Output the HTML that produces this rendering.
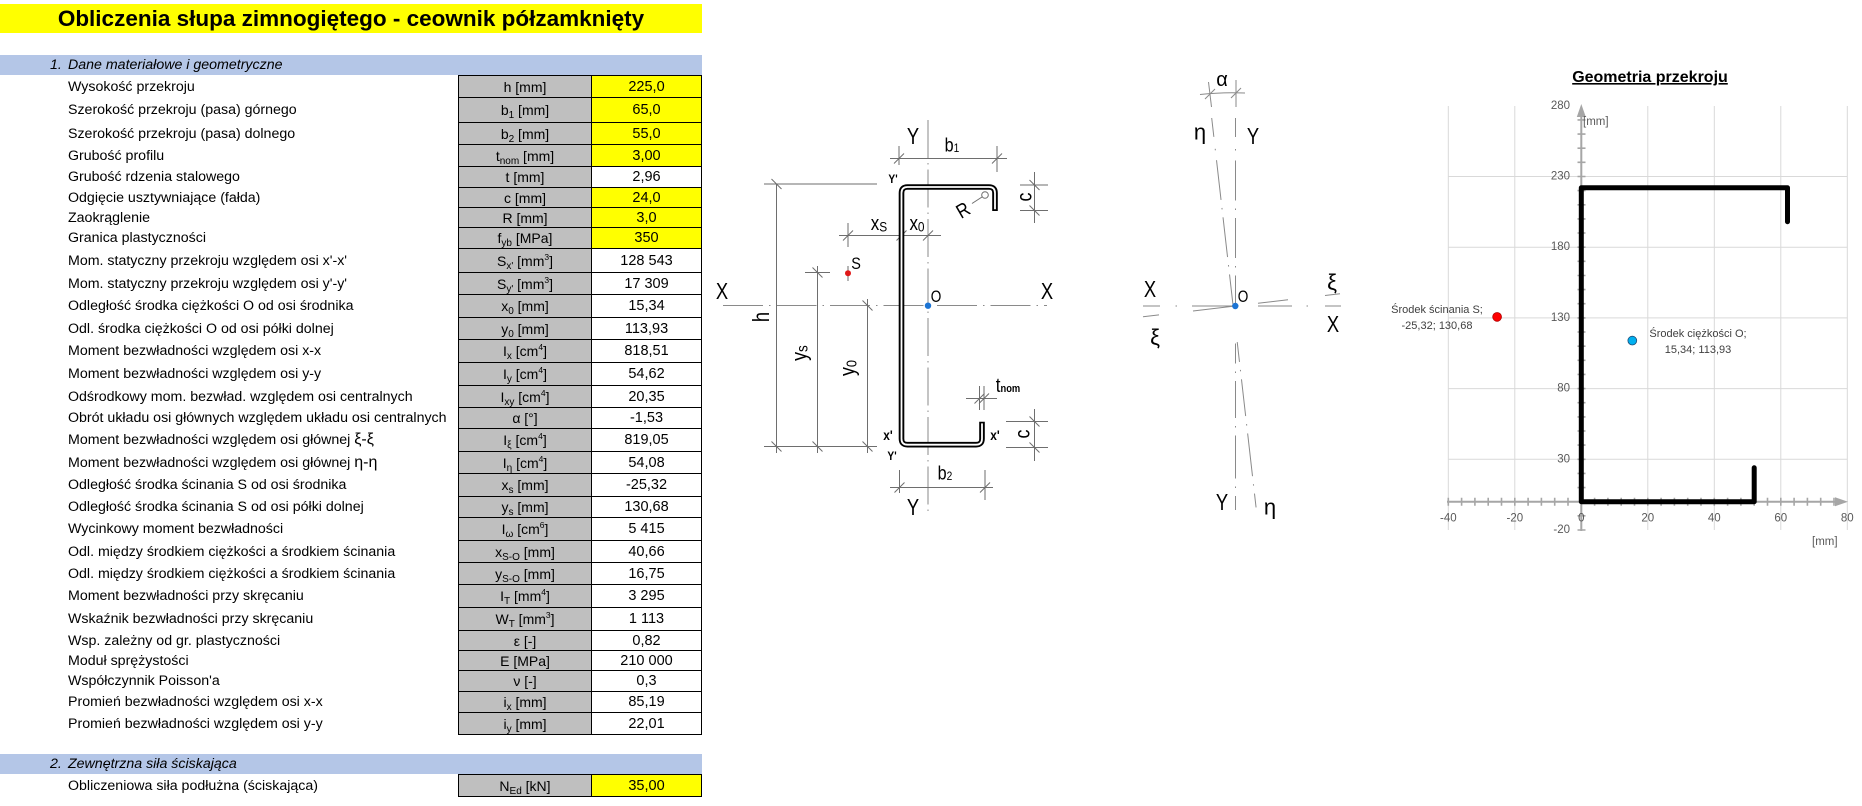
<!DOCTYPE html>
<html><head><meta charset="utf-8">
<style>
html,body{margin:0;padding:0;background:#fff;}
body{width:1862px;height:806px;position:relative;overflow:hidden;font-family:"Liberation Sans",sans-serif;color:#000;}
.title{position:absolute;left:0;top:4px;width:702px;height:29px;background:#ff0;font-weight:bold;font-size:22.5px;line-height:29px;text-align:center;}
.hd{position:absolute;left:0;width:702px;height:20px;background:#b4c6e7;font-style:italic;font-size:14.2px;}
.hd .n{position:absolute;left:50px;top:0;line-height:20px;}
.hd .t{position:absolute;left:68px;top:0;line-height:20px;}
.r{position:absolute;left:0;width:702px;font-size:14.2px;}
.l{position:absolute;left:68px;top:0;height:100%;display:flex;align-items:center;white-space:nowrap;}
.u,.v{position:absolute;top:0;height:100%;border:1px solid #000;box-sizing:border-box;display:flex;align-items:center;justify-content:center;white-space:nowrap;}
.u{left:458px;width:134px;background:#bfbfbf;font-size:14px;}
.v{left:591px;width:111px;background:#fff;font-size:14.5px;}
.y{background:#ff0;}
sub{font-size:10px;vertical-align:-3px;line-height:0;}
sup{font-size:8.5px;vertical-align:6px;line-height:0;}
svg{position:absolute;left:0;top:0;}
</style></head><body>
<div class="title">Obliczenia słupa zimnogiętego - ceownik półzamknięty</div>
<div class="hd" style="top:55px"><span class="n">1.</span><span class="t">Dane materiałowe i geometryczne</span></div>

<div class="r" style="top:75px;height:23px"><span class="l">Wysokość przekroju</span><div class="u"><span>h [mm]</span></div><div class="v y">225,0</div></div>
<div class="r" style="top:97px;height:26px"><span class="l">Szerokość przekroju (pasa) górnego</span><div class="u"><span>b<sub>1</sub> [mm]</span></div><div class="v y">65,0</div></div>
<div class="r" style="top:122px;height:23px"><span class="l">Szerokość przekroju (pasa) dolnego</span><div class="u"><span>b<sub>2</sub> [mm]</span></div><div class="v y">55,0</div></div>
<div class="r" style="top:144px;height:23px"><span class="l">Grubość profilu</span><div class="u"><span>t<sub>nom</sub> [mm]</span></div><div class="v y">3,00</div></div>
<div class="r" style="top:166px;height:22px"><span class="l">Grubość rdzenia stalowego</span><div class="u"><span>t [mm]</span></div><div class="v">2,96</div></div>
<div class="r" style="top:187px;height:21px"><span class="l">Odgięcie usztywniające (fałda)</span><div class="u"><span>c [mm]</span></div><div class="v y">24,0</div></div>
<div class="r" style="top:207px;height:21px"><span class="l">Zaokrąglenie</span><div class="u"><span>R [mm]</span></div><div class="v y">3,0</div></div>
<div class="r" style="top:227px;height:22px"><span class="l">Granica plastyczności</span><div class="u"><span>f<sub>yb</sub> [MPa]</span></div><div class="v y">350</div></div>
<div class="r" style="top:248px;height:25px"><span class="l">Mom. statyczny przekroju względem osi x'-x'</span><div class="u"><span>S<sub>x'</sub> [mm<sup>3</sup>]</span></div><div class="v">128 543</div></div>
<div class="r" style="top:272px;height:23px"><span class="l">Mom. statyczny przekroju względem osi y'-y'</span><div class="u"><span>S<sub>y'</sub> [mm<sup>3</sup>]</span></div><div class="v">17 309</div></div>
<div class="r" style="top:294px;height:24px"><span class="l">Odległość środka ciężkości O od osi środnika</span><div class="u"><span>x<sub>0</sub> [mm]</span></div><div class="v">15,34</div></div>
<div class="r" style="top:317px;height:23px"><span class="l">Odl. środka ciężkości O od osi półki dolnej</span><div class="u"><span>y<sub>0</sub> [mm]</span></div><div class="v">113,93</div></div>
<div class="r" style="top:339px;height:24px"><span class="l">Moment bezwładności względem osi x-x</span><div class="u"><span>I<sub>x</sub> [cm<sup>4</sup>]</span></div><div class="v">818,51</div></div>
<div class="r" style="top:362px;height:24px"><span class="l">Moment bezwładności względem osi y-y</span><div class="u"><span>I<sub>y</sub> [cm<sup>4</sup>]</span></div><div class="v">54,62</div></div>
<div class="r" style="top:385px;height:23px"><span class="l">Odśrodkowy mom. bezwład. względem osi centralnych</span><div class="u"><span>I<sub>xy</sub> [cm<sup>4</sup>]</span></div><div class="v">20,35</div></div>
<div class="r" style="top:407px;height:22px"><span class="l">Obrót układu osi głównych względem układu osi centralnych</span><div class="u"><span>α [°]</span></div><div class="v">-1,53</div></div>
<div class="r" style="top:428px;height:24px"><span class="l"><span>Moment bezwładności względem osi głównej <span style="font-size:16px">ξ-ξ</span></span></span><div class="u"><span>I<sub>ξ</sub> [cm<sup>4</sup>]</span></div><div class="v">819,05</div></div>
<div class="r" style="top:451px;height:23px"><span class="l"><span>Moment bezwładności względem osi głównej <span style="font-size:16px">η-η</span></span></span><div class="u"><span>I<sub>η</sub> [cm<sup>4</sup>]</span></div><div class="v">54,08</div></div>
<div class="r" style="top:473px;height:24px"><span class="l">Odległość środka ścinania S od osi środnika</span><div class="u"><span>x<sub>s</sub> [mm]</span></div><div class="v">-25,32</div></div>
<div class="r" style="top:496px;height:22px"><span class="l">Odległość środka ścinania S od osi półki dolnej</span><div class="u"><span>y<sub>s</sub> [mm]</span></div><div class="v">130,68</div></div>
<div class="r" style="top:517px;height:24px"><span class="l">Wycinkowy moment bezwładności</span><div class="u"><span>I<sub>ω</sub> [cm<sup>6</sup>]</span></div><div class="v">5 415</div></div>
<div class="r" style="top:540px;height:23px"><span class="l">Odl. między środkiem ciężkości a środkiem ścinania</span><div class="u"><span>x<sub>S-O</sub> [mm]</span></div><div class="v">40,66</div></div>
<div class="r" style="top:562px;height:23px"><span class="l">Odl. między środkiem ciężkości a środkiem ścinania</span><div class="u"><span>y<sub>S-O</sub> [mm]</span></div><div class="v">16,75</div></div>
<div class="r" style="top:584px;height:24px"><span class="l">Moment bezwładności przy skręcaniu</span><div class="u"><span>I<sub>T</sub> [mm<sup>4</sup>]</span></div><div class="v">3 295</div></div>
<div class="r" style="top:607px;height:24px"><span class="l">Wskaźnik bezwładności przy skręcaniu</span><div class="u"><span>W<sub>T</sub> [mm<sup>3</sup>]</span></div><div class="v">1 113</div></div>
<div class="r" style="top:630px;height:21px"><span class="l">Wsp. zależny od gr. plastyczności</span><div class="u"><span>ε [-]</span></div><div class="v">0,82</div></div>
<div class="r" style="top:650px;height:21px"><span class="l">Moduł sprężystości</span><div class="u"><span>E [MPa]</span></div><div class="v">210 000</div></div>
<div class="r" style="top:670px;height:22px"><span class="l">Współczynnik Poisson'a</span><div class="u"><span>ν [-]</span></div><div class="v">0,3</div></div>
<div class="r" style="top:691px;height:22px"><span class="l">Promień bezwładności względem osi x-x</span><div class="u"><span>i<sub>x</sub> [mm]</span></div><div class="v">85,19</div></div>
<div class="r" style="top:712px;height:23px"><span class="l">Promień bezwładności względem osi y-y</span><div class="u"><span>i<sub>y</sub> [mm]</span></div><div class="v">22,01</div></div>

<div class="hd" style="top:754px"><span class="n">2.</span><span class="t">Zewnętrzna siła ściskająca</span></div>
<div class="r" style="top:774px;height:23px"><span class="l">Obliczeniowa siła podłużna (ściskająca)</span><div class="u"><span>N<sub>Ed</sub> [kN]</span></div><div class="v y">35,00</div></div>

<svg width="1862" height="806" viewBox="0 0 1862 806" xmlns="http://www.w3.org/2000/svg" font-family="Liberation Sans, sans-serif">
<!-- ============ Diagram 1 ============ -->
<g stroke="#8a8a8a" stroke-width="1" fill="none">
  <line x1="928" y1="120" x2="928" y2="513" stroke-dasharray="38 5 1.5 5"/>
  <line x1="723" y1="305.5" x2="1047" y2="305.5" stroke-dasharray="40 6 1.5 6"/>
</g>
<g stroke="#6e6e6e" stroke-width="1" fill="none">
  <line x1="890" y1="158.5" x2="1007" y2="158.5"/>
  <line x1="899" y1="146" x2="899" y2="165"/>
  <line x1="997" y1="146" x2="997" y2="172"/>
  <path d="M894 163.5l10 -10M992 163.5l10 -10"/>
  <line x1="776.5" y1="184" x2="776.5" y2="453"/>
  <line x1="764" y1="184" x2="877" y2="184"/>
  <line x1="764" y1="446.5" x2="877" y2="446.5"/>
  <path d="M771.5 179l10 10M771.5 441.5l10 10"/>
  <line x1="817.5" y1="266" x2="817.5" y2="453"/>
  <line x1="805" y1="272.5" x2="830" y2="272.5"/>
  <path d="M812.5 267.5l10 10M812.5 441.5l10 10"/>
  <line x1="867.5" y1="299" x2="867.5" y2="453"/>
  <path d="M862.5 300.5l10 10M862.5 441.5l10 10"/>
  <line x1="839" y1="235.5" x2="941" y2="235.5"/>
  <line x1="848" y1="223" x2="848" y2="247"/>
  <line x1="848" y1="266" x2="848" y2="281"/>
  <path d="M843 240.5l10 -10M896.5 240.5l10 -10M923 240.5l10 -10"/>
  <line x1="1034.5" y1="172" x2="1034.5" y2="223"/>
  <line x1="1020" y1="185" x2="1048" y2="185"/>
  <line x1="1020" y1="210.5" x2="1048" y2="210.5"/>
  <path d="M1029.5 180l10 10M1029.5 205.5l10 10"/>
  <line x1="966" y1="398.5" x2="997" y2="398.5"/>
  <line x1="979.5" y1="386" x2="979.5" y2="410"/>
  <line x1="984" y1="386" x2="984" y2="410"/>
  <path d="M974.5 403.5l10 -10M979 403.5l10 -10"/>
  <line x1="1034.5" y1="409" x2="1034.5" y2="461"/>
  <line x1="1006" y1="421.5" x2="1048" y2="421.5"/>
  <line x1="1006" y1="447.5" x2="1048" y2="447.5"/>
  <path d="M1029.5 416.5l10 10M1029.5 442.5l10 10"/>
  <line x1="890" y1="487.5" x2="993" y2="487.5"/>
  <line x1="899.5" y1="470" x2="899.5" y2="493"/>
  <line x1="985" y1="470" x2="985" y2="500"/>
  <path d="M894.5 492.5l10 -10M980 492.5l10 -10"/>
  <circle cx="985" cy="195" r="3.3"/>
  <line x1="972" y1="203.5" x2="982" y2="197"/>
</g>
<path d="M995 211 L995 193 Q995 187 989 187 L907.5 187 Q901.5 187 901.5 193 L901.5 438.7 Q901.5 444.7 907.5 444.7 L976 444.7 Q982 444.7 982 438.7 L982 421.7" fill="none" stroke="#000" stroke-width="5.6"/>
<path d="M995 209.3 L995 193 Q995 187 989 187 L907.5 187 Q901.5 187 901.5 193 L901.5 438.7 Q901.5 444.7 907.5 444.7 L976 444.7 Q982 444.7 982 438.7 L982 423.4" fill="none" stroke="#fff" stroke-width="1.8"/>
<circle cx="848" cy="273.3" r="3" fill="#e01818"/>
<circle cx="928" cy="305.7" r="3.2" fill="#1c74d4"/>
<g fill="#000" text-anchor="middle" dominant-baseline="central">
  <text transform="translate(722,292) scale(0.8,1)" font-size="23">X</text>
  <text transform="translate(1047,292) scale(0.8,1)" font-size="23">X</text>
  <text transform="translate(913,137) scale(0.8,1)" font-size="23">Y</text>
  <text transform="translate(913,508) scale(0.8,1)" font-size="23">Y</text>
  <text transform="translate(952,145) scale(0.85,1)" font-size="19">b<tspan font-size="12" dy="4">1</tspan></text>
  <text transform="translate(945,473) scale(0.85,1)" font-size="19">b<tspan font-size="12" dy="4">2</tspan></text>
  <text transform="translate(893,180) scale(0.85,1)" font-size="12" font-weight="bold">Y'</text>
  <text transform="translate(892,457) scale(0.85,1)" font-size="12" font-weight="bold">Y'</text>
  <text transform="translate(888,435) scale(0.85,1)" font-size="14" font-weight="bold">x'</text>
  <text transform="translate(995,435) scale(0.85,1)" font-size="14" font-weight="bold">x'</text>
  <text transform="translate(762,317) rotate(-90) scale(0.8,1)" font-size="23">h</text>
  <text transform="translate(800,353) rotate(-90) scale(0.85,1)" font-size="21">y<tspan font-size="16" dy="3">s</tspan></text>
  <text transform="translate(848,368) rotate(-90) scale(0.85,1)" font-size="21">y<tspan font-size="15" dy="3">0</tspan></text>
  <text transform="translate(879,223) scale(0.85,1)" font-size="20">x<tspan font-size="14" dy="3">S</tspan></text>
  <text transform="translate(917,223) scale(0.85,1)" font-size="20">x<tspan font-size="14" dy="3">0</tspan></text>
  <text transform="translate(856,264) scale(0.85,1)" font-size="17">S</text>
  <text transform="translate(936,297) scale(0.8,1)" font-size="17">O</text>
  <text transform="translate(1025,197) rotate(-90) scale(0.85,1)" font-size="21">c</text>
  <text transform="translate(1023,434) rotate(-90) scale(0.85,1)" font-size="21">c</text>
  <text transform="translate(963,210) rotate(-30) scale(0.85,1)" font-size="20">R</text>
  <text transform="translate(1008,385) scale(0.85,1)" font-size="20">t<tspan font-size="11" dy="4" font-weight="bold">nom</tspan></text>
</g>

<!-- ============ Diagram 2 ============ -->
<g stroke="#8a8a8a" stroke-width="1" fill="none">
  <line x1="1235.5" y1="118" x2="1235.5" y2="513" stroke-dasharray="19 12 1.5 10 40 8 1.5 8 40 8 1.5 8 30 38 20 8 1.5 8 37 8 1.5 8 43 8 1.5 8 14"/>
  <line x1="1211.7" y1="118" x2="1256.7" y2="513" stroke-dasharray="19 12 1.5 10 40 8 1.5 8 40 8 1.5 8 30 38 20 8 1.5 8 37 8 1.5 8 43 8 1.5 8 14"/>
  <path d="M1143 306H1160M1192 306H1233M1258 306H1292M1325 306H1341"/>
  <path d="M1175.5 306h1.5M1306.5 306h1.5"/>
  <path d="M1143 316.8L1159 314.9M1193 311L1233 306.3M1258 303.3L1288 299.8M1325 295.5L1340 293.7"/>
  <path d="M1200 94.5Q1222 92 1245 93"/>
  <line x1="1208.5" y1="82" x2="1211.5" y2="107"/>
  <line x1="1236" y1="80" x2="1236" y2="107"/>
  <path d="M1205 99l10 -10M1231 98l10 -10"/>
</g>
<circle cx="1235.3" cy="306" r="3.2" fill="#1c74d4"/>
<g fill="#000" text-anchor="middle" dominant-baseline="central">
  <text transform="translate(1222,80)" font-size="20">α</text>
  <text transform="translate(1200,132)" font-size="22">η</text>
  <text transform="translate(1270,507)" font-size="22">η</text>
  <text transform="translate(1253,137) scale(0.8,1)" font-size="23">Y</text>
  <text transform="translate(1222,503) scale(0.8,1)" font-size="23">Y</text>
  <text transform="translate(1150,290) scale(0.8,1)" font-size="23">X</text>
  <text transform="translate(1333,325) scale(0.8,1)" font-size="23">X</text>
  <text transform="translate(1155,337)" font-size="22">ξ</text>
  <text transform="translate(1332,282)" font-size="22">ξ</text>
  <text transform="translate(1243,297) scale(0.8,1)" font-size="17">O</text>
</g>

<!-- ============ Chart ============ -->
<text x="1650" y="82" text-anchor="middle" font-size="16" font-weight="bold" text-decoration="underline" fill="#000">Geometria przekroju</text>
<g stroke="#d9d9d9" stroke-width="1" fill="none">
  <path d="M1448.3 106V530M1514.8 106V530M1647.8 106V530M1714.3 106V530M1780.8 106V530M1847.3 106V530"/>
  <path d="M1448 459.3H1847M1448 388.6H1847M1448 317.9H1847M1448 247.2H1847M1448 176.5H1847"/>
</g>
<g stroke="#a6a6a6" stroke-width="2" fill="none">
  <line x1="1581.3" y1="531" x2="1581.3" y2="114"/>
  <line x1="1447" y1="501.7" x2="1838" y2="501.7"/>
  <path stroke-width="1.6" d="M1577.5 530h8M1577.5 515.8h8M1577.5 487.6h8M1577.5 473.4h8M1577.5 459.3h8M1577.5 445.1h8M1577.5 431h8M1577.5 416.9h8M1577.5 402.7h8M1577.5 388.6h8M1577.5 374.4h8M1577.5 360.3h8M1577.5 346.2h8M1577.5 332h8M1577.5 317.9h8M1577.5 303.7h8M1577.5 289.6h8M1577.5 275.5h8M1577.5 261.3h8M1577.5 247.2h8M1577.5 233h8M1577.5 218.9h8M1577.5 204.8h8M1577.5 190.6h8M1577.5 176.5h8M1577.5 162.3h8M1577.5 148.2h8M1577.5 134.1h8M1577.5 119.9h8"/>
  <path stroke-width="1.6" d="M1448.3 497.7v8M1461.6 497.7v8M1474.9 497.7v8M1488.2 497.7v8M1501.5 497.7v8M1514.8 497.7v8M1528.1 497.7v8M1541.4 497.7v8M1554.7 497.7v8M1568 497.7v8M1594.6 497.7v8M1607.9 497.7v8M1621.2 497.7v8M1634.5 497.7v8M1647.8 497.7v8M1661.1 497.7v8M1674.4 497.7v8M1687.7 497.7v8M1701 497.7v8M1714.3 497.7v8M1727.6 497.7v8M1740.9 497.7v8M1754.2 497.7v8M1767.5 497.7v8M1780.8 497.7v8M1794.1 497.7v8M1807.4 497.7v8M1820.7 497.7v8M1834 497.7v8"/>
</g>
<polygon points="1581.3,104 1576.8,117 1585.8,117" fill="#a6a6a6"/>
<polygon points="1848,501.7 1835,497.2 1835,506.2" fill="#a6a6a6"/>
<g fill="#595959" font-size="11.5" dominant-baseline="central">
  <g text-anchor="end">
    <text x="1570" y="105.8">280</text>
    <text x="1570" y="176.5">230</text>
    <text x="1570" y="247.2">180</text>
    <text x="1570" y="317.9">130</text>
    <text x="1570" y="388.6">80</text>
    <text x="1570" y="459.3">30</text>
    <text x="1570" y="530">-20</text>
  </g>
  <g text-anchor="middle">
    <text x="1448.3" y="518.5">-40</text>
    <text x="1514.8" y="518.5">-20</text>
    <text x="1581.3" y="518.5">0</text>
    <text x="1647.8" y="518.5">20</text>
    <text x="1714.3" y="518.5">40</text>
    <text x="1780.8" y="518.5">60</text>
    <text x="1847.3" y="518.5">80</text>
  </g>
  <text x="1583" y="122">[mm]</text>
  <text x="1812" y="542">[mm]</text>
</g>
<polyline points="1754.2,467.8 1754.2,501.7 1581.3,501.7 1581.3,187.8 1787.5,187.8 1787.5,221.7" fill="none" stroke="#000" stroke-width="5" stroke-linejoin="round" stroke-linecap="round"/>
<circle cx="1497.1" cy="316.9" r="4.4" fill="#ff0000" stroke="#b00000" stroke-width="0.8"/>
<circle cx="1632.3" cy="340.6" r="4.4" fill="#00b0f0" stroke="#1f4e79" stroke-width="0.8"/>
<g fill="#404040" font-size="11" text-anchor="middle" dominant-baseline="central">
  <text x="1437" y="310">Środek ścinania S;</text>
  <text x="1437" y="326">-25,32; 130,68</text>
  <text x="1698" y="334">Środek ciężkości O;</text>
  <text x="1698" y="350">15,34; 113,93</text>
</g>
</svg>
</body></html>
